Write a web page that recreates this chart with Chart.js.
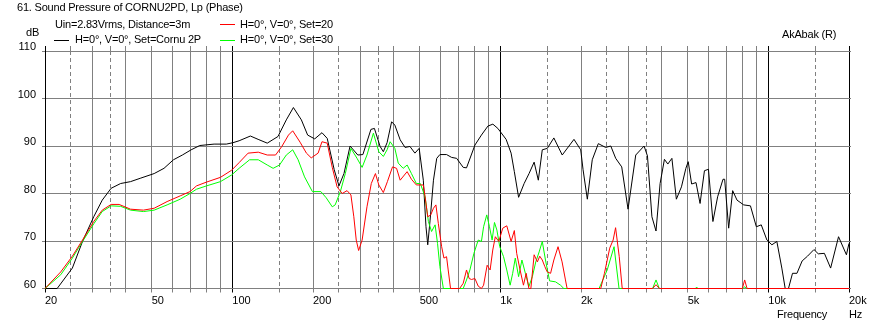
<!DOCTYPE html>
<html>
<head>
<meta charset="utf-8">
<script src="https://cdn.jsdelivr.net/npm/chart.js@4/dist/chart.umd.min.js"></script>
<style>
  body { margin: 0; background: #fff; }
  #wrap { position: relative; width: 872px; height: 326px; }
  .t { position: absolute; font: 11px "Liberation Sans", Arial, sans-serif; line-height: 13px; color: #000; white-space: nowrap; letter-spacing: -0.2px; }
  .key { position: absolute; height: 0; width: 15px; border-top: 1px solid #000; }
</style>
</head>
<body>
<div id="wrap">
  <canvas id="spl" width="872" height="326"></canvas>
  <div class="t" style="left:17px; top:1px;">61. Sound Pressure of CORNU2PD, Lp (Phase)</div>
  <div class="t" style="left:55px; top:18px;">Uin=2.83Vrms, Distance=3m</div>
  <div class="t" style="left:26px; top:26px;">dB</div>
  <div class="key" style="left:54px; top:40px; border-top-color:#000000;"></div>
  <div class="t" style="left:75px; top:33px;">H=0°, V=0°, Set=Cornu 2P</div>
  <div class="key" style="left:220px; top:24px; border-top-color:#ff0000;"></div>
  <div class="t" style="left:240px; top:18px;">H=0°, V=0°, Set=20</div>
  <div class="key" style="left:220px; top:40px; border-top-color:#00ff00;"></div>
  <div class="t" style="left:240px; top:33px;">H=0°, V=0°, Set=30</div>
  <div class="t" style="left:782px; top:28px;">AkAbak (R)</div>
  <div class="t" style="left:777px; top:308px;">Frequency</div>
  <div class="t" style="left:849px; top:308px;">Hz</div>
</div>
<script>
// [frequency Hz, level dB]
const cornu2p = [
  [20, 60], [22.2, 60], [25.3, 64.3], [27.6, 69.9], [30.4, 75.1], [32.7, 78.6], [35.3, 81.1], [38.3, 82.1],
  [41.7, 82.5], [45.3, 83.2], [51.1, 84.2], [55.6, 85.3], [60.3, 87.1], [65.1, 88.1], [70.2, 89.2], [75.6, 90.1],
  [85.5, 90.4], [95, 90.4], [100.6, 90.7], [106, 91.1], [116.8, 92.1], [124.8, 91.4], [135, 90.6], [148, 92.0],
  [159, 95.5], [169, 98.1], [181, 95.5], [191, 92.3], [203, 91.5], [216, 92.8], [226, 91.6], [240, 85.0],
  [250, 81.6], [261, 84.2], [275, 90.0], [294, 88.1], [307, 88.2], [329, 93.5], [339, 93.7], [356, 89.9],
  [366, 88.8], [378, 90.7], [393, 95.1], [404, 94.4], [423, 91.3], [441, 89.7], [460, 89.9], [480, 88.5],
  [498, 89.5], [516, 82.8], [528, 73.0], [536, 69.2], [547, 74.4], [563, 82.8], [579, 87.4], [595, 88.2],
  [630, 88.2], [658, 87.6], [687, 87.4], [727, 85.5], [748, 85.4], [804, 90.2], [850, 92.3], [899, 94.2],
  [938, 94.6], [979, 93.7], [1051, 91.4], [1097, 88.5], [1128, 84.6], [1170, 79.2], [1227, 82.1], [1280, 84.2],
  [1337, 86.6], [1386, 82.8], [1434, 89.2], [1497, 89.5], [1584, 91.7], [1702, 88.1], [1883, 91.4], [1995, 89.2],
  [2036, 85.0], [2112, 78.8], [2203, 87.1], [2321, 90.5], [2472, 89.7], [2583, 90.0], [2695, 87.4], [2838, 85.6],
  [2996, 76.7], [3201, 88.1], [3439, 90.0], [3540, 87.9], [3678, 75.1], [3810, 72.1], [3946, 82.1], [4096, 87.2],
  [4217, 86.2], [4367, 87.4], [4538, 78.8], [4741, 81.4], [4924, 85.3], [5024, 86.7], [5174, 82.0], [5372, 82.3],
  [5563, 77.9], [5776, 84.8], [5979, 85.1], [6212, 74.1], [6468, 79.3], [6775, 83.0], [6872, 83.0], [7112, 72.7],
  [7361, 80.6], [7643, 78.6], [8094, 77.6], [8576, 77.4], [9022, 73.0], [9411, 73.4], [9879, 70.2], [10310, 69.2],
  [10760, 69.9], [11230, 64.3], [11560, 60], [11890, 60], [12310, 63.2], [12790, 63.2], [13370, 65.8], [14000, 66.8],
  [14800, 68.2], [15360, 67.3], [16190, 67.4], [17080, 64.3], [18280, 70.9], [19560, 67.1], [20000, 69.5]
];

const set20 = [
  [20, 60], [22.9, 63.5], [25.3, 66.8], [27.6, 70.2], [30.4, 74.1], [32.7, 76.5], [35.3, 77.7], [37.8, 77.7],
  [41.7, 76.7], [46.6, 76.5], [51.1, 76.9], [57.1, 78.3], [63.9, 79.5], [69.5, 80.4], [73.5, 81.6], [80.1, 82.4],
  [90.3, 83.4], [99.4, 84.9], [106, 86.5], [114.5, 88.5], [125, 88.7], [135, 88.1], [145, 88.1], [153, 89.9],
  [162, 92.3], [168, 93.2], [179, 90.8], [189, 88.5], [197, 87.5], [209, 88.5], [216, 90.9], [226, 90.6],
  [236, 85.5], [246, 81.4], [257, 80.0], [268, 80.6], [277, 79.7], [284, 75.1], [290, 70.2], [296, 68.0],
  [305, 70.2], [318, 77.2], [330, 82.1], [342, 84.2], [352, 81.8], [366, 80.2], [379, 82.5], [396, 85.6],
  [410, 85.3], [423, 82.8], [449, 84.6], [466, 83.0], [486, 81.8], [516, 81.8], [524, 79.3], [536, 75.1],
  [550, 75.5], [563, 76.9], [575, 77.6], [587, 73.7], [604, 68.8], [616, 66.4], [630, 66.7], [639, 63.9],
  [652, 60], [705, 60], [727, 61.1], [748, 63.9], [765, 62.1], [781, 61.9], [804, 62.1], [827, 60.5],
  [850, 60], [866, 60.7], [893, 64.9], [916, 63.9], [937, 68.1], [958, 70.9], [987, 69.9], [1021, 72.7],
  [1057, 73.2], [1097, 69.9], [1128, 72.2], [1151, 67.4], [1185, 63.9], [1220, 60.7], [1249, 63.2], [1278, 60],
  [1300, 60], [1337, 67.1], [1375, 65.6], [1403, 66.8], [1434, 66.0], [1466, 64.6], [1496, 63.5], [1540, 63.2],
  [1584, 66.0], [1642, 68.8], [1700, 65.6], [1750, 61.8], [1775, 60], [2370, 60], [2446, 63.2], [2560, 68.5],
  [2636, 70.2], [2692, 72.8], [2778, 66.7], [2850, 60], [3700, 60], [3810, 60.8], [3920, 60], [8000, 60],
  [8160, 61.8], [8330, 60], [20000, 60]
];

const set30 = [
  [20, 60], [22.9, 62.9], [25.3, 66.4], [27.6, 69.9], [30.4, 73.6], [32.7, 76.2], [35.3, 77.4], [38.3, 77.3],
  [41.7, 76.5], [46.6, 76.2], [51.1, 76.5], [57.1, 77.6], [63.9, 78.8], [69.5, 80.0], [73.5, 80.9], [80.1, 81.6],
  [90.3, 82.5], [99.4, 83.9], [106, 85.3], [116, 87.1], [125, 87.1], [135, 86.0], [142, 85.3], [150, 86.0],
  [159, 88.1], [168, 89.2], [176, 87.1], [186, 83.5], [199, 80.4], [214, 80.4], [224, 79.1], [236, 77.2],
  [242, 77.6], [253, 80.4], [264, 84.2], [277, 89.5], [292, 87.4], [305, 85.5], [318, 88.1], [336, 92.7],
  [352, 88.8], [366, 87.8], [378, 89.2], [388, 90.9], [404, 89.5], [416, 86.4], [434, 85.3], [449, 86.0],
  [466, 84.2], [486, 82.1], [503, 82.1], [524, 79.3], [539, 74.1], [554, 72.0], [571, 73.4], [583, 69.5],
  [595, 64.6], [613, 60], [727, 60], [748, 61.8], [770, 63.9], [797, 67.4], [827, 70.2], [850, 69.9],
  [866, 73.0], [890, 75.5], [911, 73.0], [932, 70.2], [951, 73.9], [971, 72.3], [995, 68.8], [1028, 66.7],
  [1057, 63.9], [1088, 60.7], [1112, 63.2], [1137, 66.4], [1170, 62.5], [1204, 66.0], [1240, 63.2], [1278, 60.4],
  [1317, 62.5], [1356, 65.6], [1396, 67.7], [1434, 69.9], [1474, 66.0], [1527, 61.6], [1607, 61.4], [1677, 60.7],
  [1726, 60], [2336, 60], [2505, 63.9], [2657, 68.8], [2773, 60], [3700, 60], [3810, 61.8], [3920, 60],
  [5350, 60], [5400, 60.3], [5460, 60], [8050, 60], [8160, 60.4], [8270, 60], [20000, 60]
];

// frequency grid: solid, dashed (x1.5 / x2.5 / x3.5) and black decade lines
const xGridValues = [20, 25, 30, 35, 40, 50, 60, 70, 80, 90,
  100, 150, 200, 250, 300, 350, 400, 500, 600, 700, 800, 900,
  1000, 1500, 2000, 2500, 3000, 3500, 4000, 5000, 6000, 7000, 8000, 9000,
  10000, 15000, 20000];
const dashedLines = [25, 35, 150, 250, 350, 1500, 2500, 3500, 15000];
const blackLines = [20, 100, 1000, 10000, 20000];
const xLabelValues = [20, 50, 100, 200, 500, 1000, 2000, 5000, 10000, 20000];
const xLabelTexts = ['20', '50', '100', '200', '500', '1k', '2k', '5k', '10k', '20k'];
const yTicks = [60, 70, 80, 90, 100, 110];

const gray = '#808080';

const toPoints = arr => arr.map(p => ({ x: p[0], y: p[1] }));

function lineColor(ctx) {
  const v = ctx.tick ? ctx.tick.value : null;
  return blackLines.includes(v) ? '#000' : gray;
}

function lineDash(ctx) {
  const v = ctx.tick ? ctx.tick.value : null;
  return dashedLines.includes(v) ? [4, 3] : [];
}

function setFreqTicks(scale) {
  scale.ticks = xGridValues.map(v => ({ value: v }));
}

Chart.defaults.font.family = '"Liberation Sans", Arial, sans-serif';
Chart.defaults.font.size = 11;
Chart.defaults.color = '#000';

function curve(points, color) {
  return {
    data: toPoints(points),
    borderColor: color,
    borderWidth: 1,
    pointRadius: 0,
    tension: 0,
    fill: false,
    clip: 2
  };
}

new Chart(document.getElementById('spl'), {
  type: 'line',
  data: {
    // first dataset is painted last
    datasets: [
      curve(set20, '#ff0000'),
      curve(set30, '#00ff00'),
      curve(cornu2p, '#000000')
    ]
  },
  options: {
    responsive: false,
    animation: false,
    events: [],
    layout: { padding: { left: 0, top: 46, right: 20, bottom: 17.5 } },
    plugins: { legend: { display: false }, tooltip: { enabled: false } },
    scales: {
      x: {
        type: 'logarithmic',
        position: 'bottom',
        min: 20,
        max: 20000,
        afterBuildTicks: setFreqTicks,
        afterFit: s => { s.height = 20; },
        ticks: {
          autoSkip: false,
          maxRotation: 0,
          align: 'start',
          padding: 2,
          callback: v => {
            const i = xLabelValues.indexOf(v);
            return i >= 0 ? xLabelTexts[i] : '';
          }
        },
        grid: { color: lineColor, lineWidth: 1, tickLength: 4 },
        border: { color: gray, dash: lineDash }
      },
      xTop: {
        type: 'logarithmic',
        position: 'top',
        min: 20,
        max: 20000,
        afterBuildTicks: setFreqTicks,
        afterFit: s => { s.height = 5; },
        ticks: { display: false, autoSkip: false },
        grid: { drawOnChartArea: false, color: lineColor, tickLength: 5 },
        border: { color: gray, dash: lineDash }
      },
      y: {
        min: 60,
        max: 110,
        afterBuildTicks: s => { s.ticks = yTicks.map(v => ({ value: v })); },
        afterFit: s => { s.width = 45; },
        ticks: { padding: 6, labelOffset: -4 },
        grid: { color: gray, tickLength: 3 },
        border: { color: '#000' }
      },
      yRight: {
        position: 'right',
        min: 60,
        max: 110,
        afterBuildTicks: s => { s.ticks = yTicks.map(v => ({ value: v })); },
        afterFit: s => { s.width = 3; },
        ticks: { display: false },
        grid: { drawOnChartArea: false, color: gray, tickLength: 2 },
        border: { display: false }
      }
    }
  }
});
</script>
</body>
</html>
